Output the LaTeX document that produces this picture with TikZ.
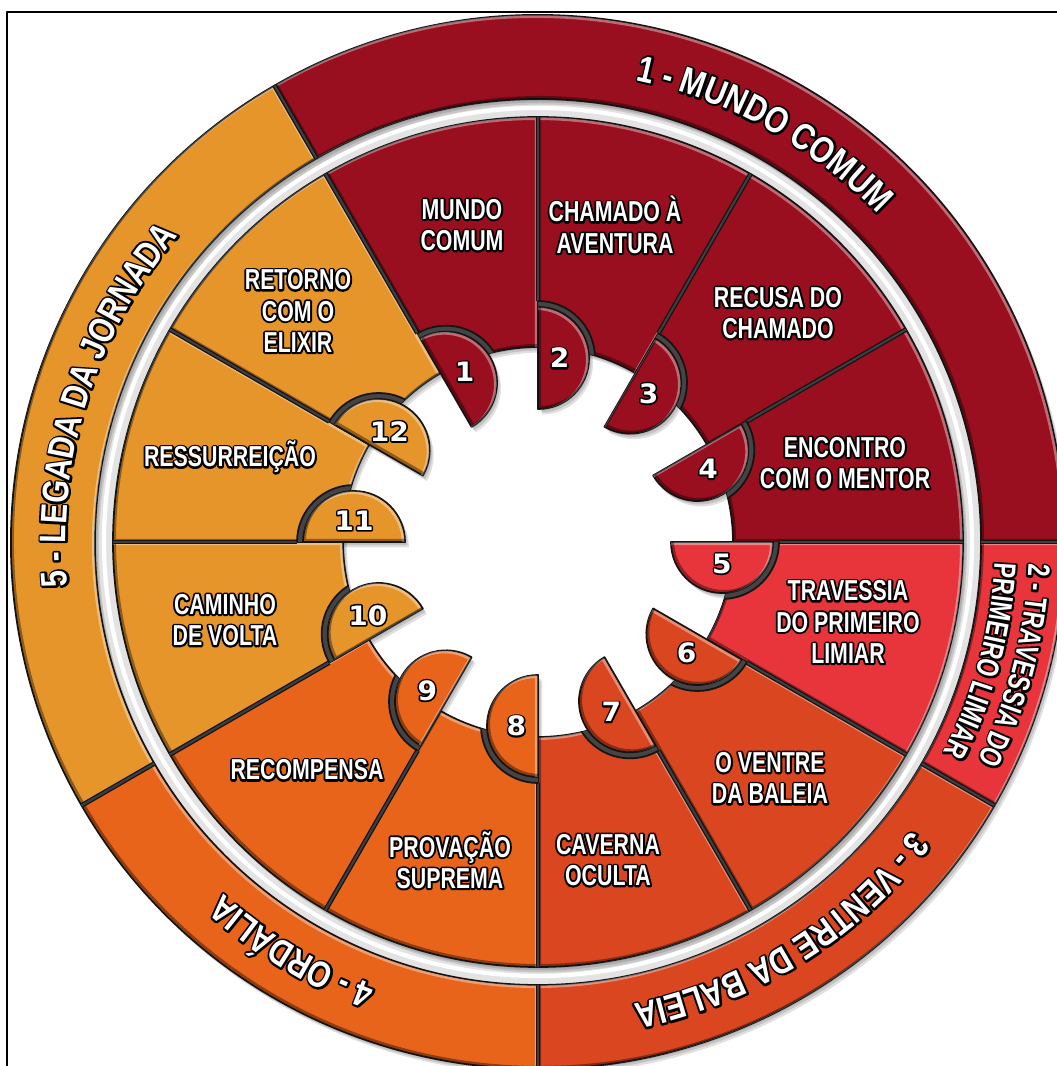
\documentclass[tikz,border=0pt]{standalone}
\usepackage{fontspec}
\usetikzlibrary{calc,decorations.text}

% condensed bold sans for labels, wider one for the ring titles, square-ish digits for the tabs
\newfontfamily\lblW{Liberation Sans}[FakeStretch=0.74]
\newfontfamily\lblK{Liberation Sans}[FakeStretch=0.74,FakeBold=13]
\newfontfamily\rngW{Liberation Sans}[FakeStretch=0.81]
\newfontfamily\rngK{Liberation Sans}[FakeStretch=0.81,FakeBold=11]
\newfontfamily\numW{DejaVu Sans}[FakeStretch=1.05]
\newfontfamily\numK{DejaVu Sans}[FakeStretch=1.05,FakeBold=12]

\definecolor{stA}{HTML}{9A0F1F}
\definecolor{stB}{HTML}{E8343B}
\definecolor{stC}{HTML}{DA461F}
\definecolor{stD}{HTML}{E8641A}
\definecolor{stE}{HTML}{E6952A}
\definecolor{gapgrey}{HTML}{E3E3E3}
\definecolor{notchgrey}{HTML}{444444}
\definecolor{sepgrey}{HTML}{3E3E3E}
\definecolor{edge}{HTML}{141414}

% white lettering with a black rim: a heavier black copy sits under the white one
\newcommand\OL[1]{\leavevmode\rlap{\lblK\bfseries\color{black}#1}{\lblW\bfseries\color{white}#1}}
\newcommand\ON[1]{\leavevmode\rlap{\numK\bfseries\color{black}#1}{\numW\bfseries\color{white}#1}}
\newcommand\RK{\fontsize{10.5}{12}\rngK\bfseries\color{black}}
\newcommand\RW{\fontsize{10.5}{12}\rngW\bfseries\color{white}}
\newcommand\SK{\fontsize{8.8}{10}\lblK\bfseries\color{black}}
\newcommand\SW{\fontsize{8.8}{10}\lblW\bfseries\color{white}}

\tikzset{
  seg/.style 2 args={insert path={(#1:195) -- (#1:425) arc[start angle=#1,end angle=#2,radius=425]
      -- (#2:195) arc[start angle=#2,end angle=#1,radius=195] -- cycle}},
  rng/.style 2 args={insert path={(#1:443) -- (#1:527) arc[start angle=#1,end angle=#2,radius=527]
      -- (#2:443) arc[start angle=#2,end angle=#1,radius=443] -- cycle}},
  tabp/.style={insert path={(#1:184) ++(#1:51) arc[start angle=#1,end angle=#1-180,radius=51] -- cycle}},
  pieces/.style={draw=edge,line width=0.5pt},
  hilite/.style={draw=white,opacity=0.38,line width=0.75pt},
  lowlite/.style={draw=black,opacity=0.38,line width=0.75pt},
  lbl/.style={align=center,inner sep=0pt,font=\fontsize{8.2}{8.9}\selectfont},
  num/.style={inner sep=0pt,font=\fontsize{7.6}{9}\selectfont},
}
% raised look: light band inside the upper-right edges, dark band inside the lower-left ones
\newcommand\bevel[1]{%
  \begin{scope}
    \clip[#1];
    \draw[hilite,shift={(-1.7,-1.7)},#1];
    \draw[lowlite,shift={(1.7,1.7)},#1];
  \end{scope}}
% dark joint between two neighbouring pieces
\newcommand\joint[3]{%
  \draw[edge,line width=1.35pt] (#1:#2) -- (#1:#3);
  \draw[sepgrey,line width=0.6pt] (#1:#2) -- (#1:#3);}

\begin{document}
\begin{tikzpicture}[x=0.01cm,y=0.01cm,line join=round]
\useasboundingbox (0,0) rectangle (1057,1066);
\fill[white] (0,0) rectangle (1057,1066);
\begin{scope}
\clip (0,0) rectangle (1057,1066);
\begin{scope}[shift={(538,524)}]
  % light band between the stages and the outer ring
  \fill[gapgrey,even odd rule] (0,0) circle[radius=446] (0,0) circle[radius=422];
  \draw[white,line width=1.2pt] (0,0) circle[radius=434];

  % soft drop shadows
  \foreach \dx/\dy in {1/-1.5,2.5/-3.5,4/-5.5} {
    \begin{scope}[shift={(\dx,\dy)},black,opacity=0.12]
      \foreach \a/\b in {120/0,0/-30,-30/-90,-90/-150,-150/-240}
        {\fill[rng={\a}{\b}];}
      \foreach \k in {1,...,12} {
        \pgfmathsetmacro\s{150-30*\k}
        \pgfmathsetmacro\e{\s-30}
        \fill[seg={\s}{\e}];
        \fill[tabp=\s];
      }
    \end{scope}
  }

  % outer ring: the five phases
  \foreach \a/\b/\c in {120/0/stA,0/-30/stB,-30/-90/stC,-90/-150/stD,-150/-240/stE} {
    \filldraw[fill=\c,pieces,rng={\a}{\b}];
    \bevel{rng={\a}{\b}}
  }
  \foreach \a in {120,0,-30,-90,-150} {
    \joint{\a}{443}{527}
  }

  % twelve stages
  \foreach \k/\c in {1/stA,2/stA,3/stA,4/stA,5/stB,6/stC,7/stC,8/stD,9/stD,10/stE,11/stE,12/stE} {
    \pgfmathsetmacro\s{150-30*\k}
    \pgfmathsetmacro\e{\s-30}
    \filldraw[fill=\c,pieces,seg={\s}{\e}];
    \bevel{seg={\s}{\e}}
  }
  \foreach \k in {1,...,12} {
    \pgfmathsetmacro\s{150-30*\k}
    \joint{\s}{241}{425}
  }

  % each stage has a notch holding its numbered tab
  \foreach \k/\c in {1/stA,2/stA,3/stA,4/stA,5/stB,6/stC,7/stC,8/stD,9/stD,10/stE,11/stE,12/stE} {
    \pgfmathsetmacro\s{150-30*\k}
    \pgfmathsetmacro\e{\s-30}
    \begin{scope}
      \clip[seg={\s}{\e}];
      \filldraw[fill=notchgrey,draw=edge,line width=0.5pt] (\s:184) circle[radius=57];
    \end{scope}
    \filldraw[fill=\c,pieces,tabp=\s];
    \bevel{tabp=\s}
    \node[num] (n\k) at ($(\s:184)+(\s-90:21.6)$) {\ON{\k}};
  }

  % stage names
  \node[lbl] (l1) at (-76,317) {\OL{MUNDO}\\\OL{COMUM}};
  \node[lbl] (l2) at (77,317) {\OL{CHAMADO À}\\\OL{AVENTURA}};
  \node[lbl] (l3) at (240,229) {\OL{RECUSA DO}\\\OL{CHAMADO}};
  \node[lbl] (l4) at (307,79) {\OL{ENCONTRO}\\\OL{COM O MENTOR}};
  \node[lbl] (l5) at (310,-80) {\OL{TRAVESSIA}\\\OL{DO PRIMEIRO}\\\OL{LIMIAR}};
  \node[lbl] (l6) at (232,-236) {\OL{O VENTRE}\\\OL{DA BALEIA}};
  \node[lbl] (l7) at (70,-318) {\OL{CAVERNA}\\\OL{OCULTA}};
  \node[lbl] (l8) at (-88,-318) {\OL{PROVAÇÃO}\\\OL{SUPREMA}};
  \node[lbl] (l9) at (-231,-228) {\OL{RECOMPENSA}};
  \node[lbl] (l10) at (-313,-78) {\OL{CAMINHO}\\\OL{DE VOLTA}};
  \node[lbl] (l11) at (-308,85) {\OL{RESSURREIÇÃO}};
  \node[lbl] (l12) at (-240,231) {\OL{RETORNO}\\\OL{COM O}\\\OL{ELIXIR}};

  % phase titles along the ring
  \foreach \f/\g in {\RK/\SK,\RW/\SW} {
    \path[decorate,decoration={text along path,text align=center,text={|\f|1 - MUNDO COMUM}}]
      (101:472) arc[start angle=101,end angle=21,radius=472];
    \path[decorate,decoration={text along path,text align=center,text={|\g|2 - TRAVESSIA DO}}]
      (15.5:491) arc[start angle=15.5,end angle=-44.5,radius=491];
    \path[decorate,decoration={text along path,text align=center,text={|\g|PRIMEIRO LIMIAR}}]
      (15:457) arc[start angle=15,end angle=-45,radius=457];
    \path[decorate,decoration={text along path,text align=center,text={|\f|3 - VENTRE DA BALEIA}}]
      (-18:472) arc[start angle=-18,end angle=-98,radius=472];
    \path[decorate,decoration={text along path,text align=center,text={|\f|4 - ORDÁLIA}}]
      (-81:472) arc[start angle=-81,end angle=-161,radius=472];
    \path[decorate,decoration={text along path,text align=center,text={|\f|5 - LEGADA DA JORNADA}}]
      (202.5:472) arc[start angle=202.5,end angle=122.5,radius=472];
  }
\end{scope}
\end{scope}
% frame
\draw[line width=0.7pt] (7,0) -- (7,1054) -- (1057,1054);
\end{tikzpicture}
\end{document}
